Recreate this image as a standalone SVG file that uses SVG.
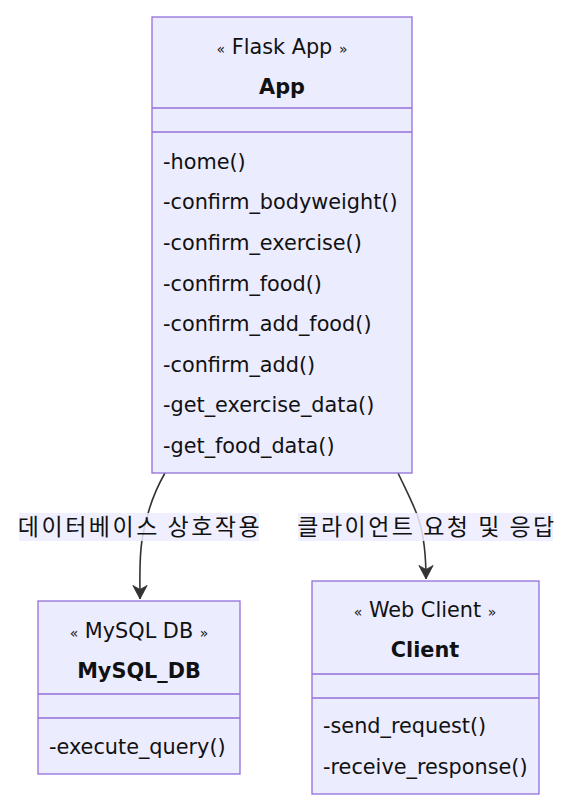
<svg xmlns="http://www.w3.org/2000/svg" width="580" height="810" viewBox="0 0 580 810">
<style>
.box{fill:#ECECFF;stroke:#9370DB;stroke-width:1.3}
.div{stroke:#9370DB;stroke-width:1.3}
text{font-family:"DejaVu Sans","Noto Sans CJK KR",sans-serif;font-size:20.8px;fill:#111}
.c{text-anchor:middle}
.b{font-weight:bold}
.g{font-size:14px}
.edge{fill:none;stroke:#333;stroke-width:1.6}
.lbg{fill:#ECECFF;opacity:0.85}
.lbl{font-family:"Noto Sans CJK KR","DejaVu Sans",sans-serif;font-size:23px;letter-spacing:2.5px;text-anchor:middle;fill:#111}
</style>
<defs>
<marker id="arr" viewBox="0 0 20 20" refX="18" refY="10" markerWidth="16" markerHeight="16" markerUnits="userSpaceOnUse" orient="auto">
<path d="M1,1 L18,10 L1,19 L6,10 Z" fill="#333" stroke="#333" stroke-width="1"/>
</marker>
</defs>
<g id="connectors">
<path class="edge" d="M165,473 C154,492 146,515 142,540 C139,560 140,575 140,599" marker-end="url(#arr)"/>
<path class="edge" d="M398,473 C406,490 414,505 419,520 C425,540 426,560 426,579" marker-end="url(#arr)"/>
<rect class="lbg" x="19" y="513" width="240" height="28"/>
<text class="lbl" x="140" y="535">데이터베이스 상호작용</text>
<rect class="lbg" x="298" y="513" width="255" height="28"/>
<text class="lbl" x="427" y="535">클라이언트 요청 및 응답</text>
</g>
<g id="App">
<rect class="box" x="152" y="17" width="260" height="456"/>
<line class="div" x1="152" y1="108" x2="412" y2="108"/>
<line class="div" x1="152" y1="132" x2="412" y2="132"/>
<text class="c" x="282" y="54"><tspan class="g">«</tspan> Flask App <tspan class="g">»</tspan></text>
<text class="c b" x="282" y="94">App</text>
<text x="163" y="169">-home()</text>
<text x="163" y="209">-confirm_bodyweight()</text>
<text x="163" y="250">-confirm_exercise()</text>
<text x="163" y="291">-confirm_food()</text>
<text x="163" y="331">-confirm_add_food()</text>
<text x="163" y="372">-confirm_add()</text>
<text x="163" y="412">-get_exercise_data()</text>
<text x="163" y="453">-get_food_data()</text>
</g>
<g id="MySQL_DB">
<rect class="box" x="38" y="601" width="202" height="173"/>
<line class="div" x1="38" y1="694" x2="240" y2="694"/>
<line class="div" x1="38" y1="718" x2="240" y2="718"/>
<text class="c" x="139" y="638"><tspan class="g">«</tspan> MySQL DB <tspan class="g">»</tspan></text>
<text class="c b" x="139" y="678">MySQL_DB</text>
<text x="49" y="754">-execute_query()</text>
</g>
<g id="Client">
<rect class="box" x="312" y="581" width="227" height="213"/>
<line class="div" x1="312" y1="674" x2="539" y2="674"/>
<line class="div" x1="312" y1="698" x2="539" y2="698"/>
<text class="c" x="425" y="617"><tspan class="g">«</tspan> Web Client <tspan class="g">»</tspan></text>
<text class="c b" x="425" y="657">Client</text>
<text x="323" y="733">-send_request()</text>
<text x="323" y="774">-receive_response()</text>
</g>
</svg>
